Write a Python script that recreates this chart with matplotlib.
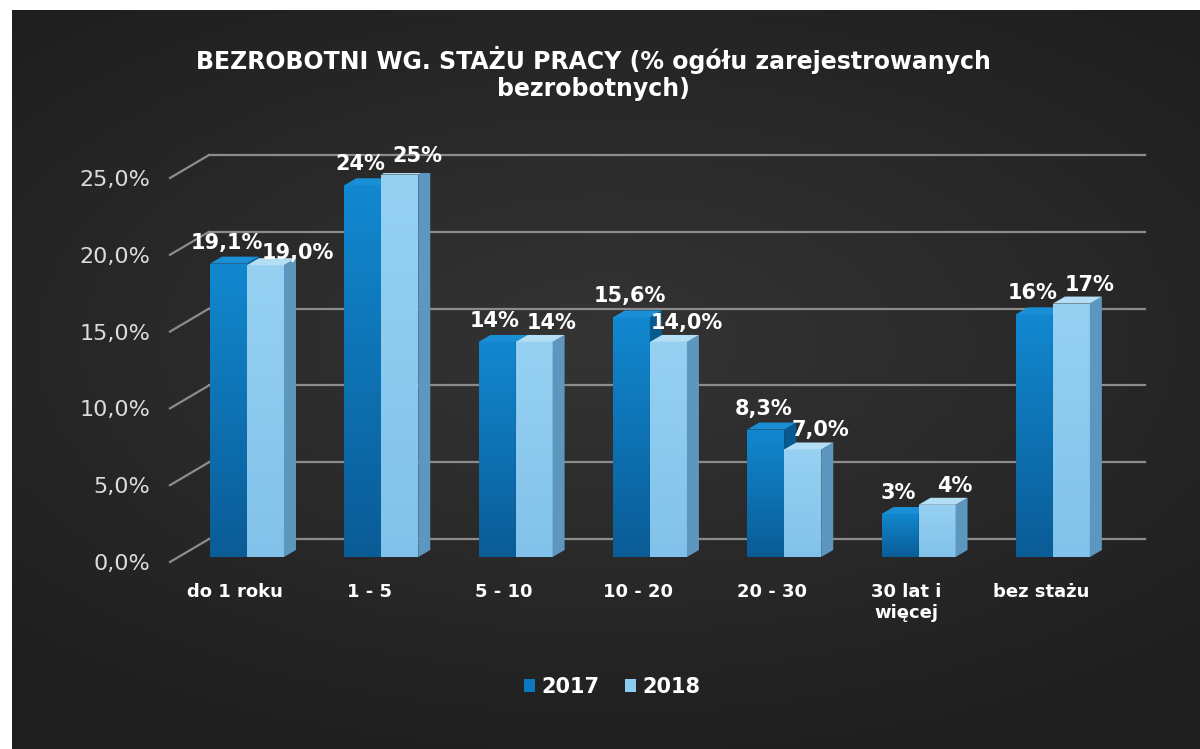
import numpy as np
import matplotlib
matplotlib.use("Agg")
import matplotlib.pyplot as plt
from matplotlib.patches import Polygon, Patch

# data
categories = ["do 1 roku", "1 - 5", "5 - 10", "10 - 20", "20 - 30", "30 lat i\nwięcej", "bez stażu"]
values_2017 = [19.1, 24.2, 14.0, 15.6, 8.3, 2.8, 15.8]
values_2018 = [19.0, 24.9, 14.0, 14.0, 7.0, 3.4, 16.5]
labels_2017 = ["19,1%", "24%", "14%", "15,6%", "8,3%", "3%", "16%"]
labels_2018 = ["19,0%", "25%", "14%", "14,0%", "7,0%", "4%", "17%"]
yticks = [0, 5, 10, 15, 20, 25]
ytick_labels = ["0,0%", "5,0%", "10,0%", "15,0%", "20,0%", "25,0%"]
series = ["2017", "2018"]

W, H = 1200, 749
fig = plt.figure(figsize=(W / 100, H / 100), dpi=100)
fig.patch.set_facecolor("white")

# dark backdrop (slide area) with a soft vignette
bg = fig.add_axes([12 / W, 0, 1 - 12 / W, (H - 10) / H])
bg.set_axis_off()
yy, xx = np.mgrid[-1:1:200j, -1:1:300j]
r = np.sqrt((xx * 0.9) ** 2 + ((yy + 0.1) * 1.1) ** 2)
shade = np.clip(0.205 - 0.065 * r, 0.12, 0.2)
bg.imshow(np.dstack([shade, shade, shade]), aspect="auto", extent=(0, 1, 0, 1))
bg.set_xlim(0, 1)
bg.set_ylim(0, 1)

# main axes: front plane of the bars
left_px, right_px, bot_px, top_px = 170, 1145, 557, 173
ax = fig.add_axes([left_px / W, 1 - bot_px / H, (right_px - left_px) / W, (bot_px - top_px) / H])
ax.set_axis_off()
ax.patch.set_alpha(0)
xmin, xmax = -0.573, 6.686
ax.set_xlim(xmin, xmax)
ax.set_ylim(0, 25)
px_x = (right_px - left_px) / (xmax - xmin)   # pixels per x unit
px_y = (bot_px - top_px) / 25.0               # pixels per percent

grid_col = "#8c8c8c"
# perspective gridlines: diagonal on the left wall + back wall line
for v in yticks:
    y_front = v - 5 / px_y
    y_back = v + 18 / px_y
    x_back = xmin + 39 / px_x
    ax.plot([xmin, x_back], [y_front, y_back], color=grid_col, lw=1.6, clip_on=False, zorder=1)
    ax.plot([x_back, xmax], [y_back, y_back], color=grid_col, lw=1.6, clip_on=False, zorder=1)

for v, lab in zip(yticks, ytick_labels):
    ax.annotate(lab, xy=(xmin, v), xytext=(-20, -7), textcoords="offset pixels",
                ha="right", va="center", fontsize=16, color="#dcdcdc", annotation_clip=False)

x = np.arange(len(categories))
w = 37 / px_x
dx = 12 / px_x
dy = 7 / px_y

styles = {
    "2017": dict(front="#0b78bf", side="#075a90", top="#1a8fd6", grad=("#1288d0", "#0a5c96")),
    "2018": dict(front="#8dcbef", side="#5d97bf", top="#b3def6", grad=("#96d1f2", "#82c2ea")),
}

def draw_bars(xpos, vals, st, z):
    bars = ax.bar(xpos, vals, width=w, color=st["front"], zorder=z, linewidth=0)
    c1 = np.array(matplotlib.colors.to_rgb(st["grad"][0]))
    c2 = np.array(matplotlib.colors.to_rgb(st["grad"][1]))
    t = np.linspace(0, 1, 100)[:, None]
    grad = (c1 * (1 - t) + c2 * t)[:, None, :]
    for b in bars:
        bx, bw, bh = b.get_x(), b.get_width(), b.get_height()
        im = ax.imshow(grad, extent=(bx, bx + bw, 0, bh), aspect="auto", zorder=z, origin="upper")
        im.set_clip_path(b)
        side = Polygon([(bx + bw, 0), (bx + bw + dx, dy), (bx + bw + dx, bh + dy), (bx + bw, bh)],
                       closed=True, facecolor=st["side"], edgecolor="none", zorder=z)
        top = Polygon([(bx, bh), (bx + bw, bh), (bx + bw + dx, bh + dy), (bx + dx, bh + dy)],
                      closed=True, facecolor=st["top"], edgecolor="none", zorder=z)
        ax.add_patch(side)
        ax.add_patch(top)
    return bars

draw_bars(x - w / 2, values_2017, styles["2017"], 3)
draw_bars(x + w / 2, values_2018, styles["2018"], 4)

# data labels
for i, (v, lab) in enumerate(zip(values_2017, labels_2017)):
    ax.annotate(lab, xy=(x[i] - w / 2, v), xytext=(-2, 21), textcoords="offset pixels",
                ha="center", va="center", fontsize=15, fontweight="bold", color="white", zorder=6)
nudge = {0: (14, -7)}
for i, (v, lab) in enumerate(zip(values_2018, labels_2018)):
    ox, oy = nudge.get(i, (0, 0))
    ax.annotate(lab, xy=(x[i] + w / 2, v), xytext=(18 + ox, 19 + oy), textcoords="offset pixels",
                ha="center", va="center", fontsize=15, fontweight="bold", color="white", zorder=6)

# category labels
for i, cat in enumerate(categories):
    ax.annotate(cat, xy=(x[i], 0), xytext=(-12, -26), textcoords="offset pixels",
                ha="center", va="top", fontsize=13, fontweight="bold", color="white",
                linespacing=1.25, annotation_clip=False)

# title
fig.text(593 / W, 1 - 60 / H, "BEZROBOTNI WG. STAŻU PRACY (% ogółu zarejestrowanych",
         ha="center", va="center", fontsize=17, fontweight="bold", color="white")
fig.text(593 / W, 1 - 89 / H, "bezrobotnych)",
         ha="center", va="center", fontsize=17, fontweight="bold", color="white")

# legend
handles = [Patch(facecolor=styles[s]["front"], edgecolor="none") for s in series]
leg = fig.legend(handles, series, loc="center", bbox_to_anchor=(612 / W, 1 - 687 / H), ncol=2,
                 frameon=False, handlelength=0.55, handleheight=0.55, handletextpad=0.3,
                 columnspacing=1.2, prop={"size": 15, "weight": "bold"})
for t in leg.get_texts():
    t.set_color("white")

fig.savefig("out.png", dpi=100, facecolor=fig.get_facecolor())
